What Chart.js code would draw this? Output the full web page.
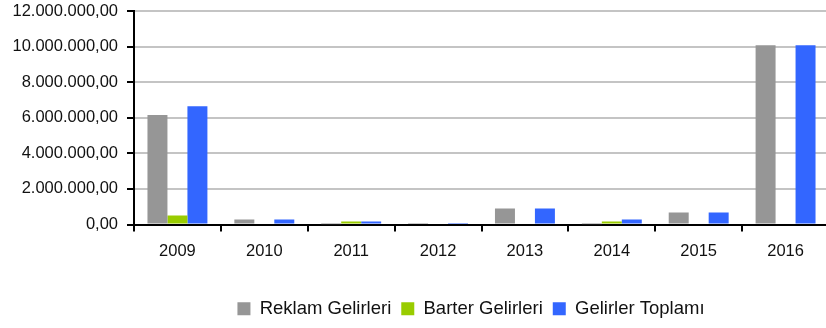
<!DOCTYPE html>
<html>
<head>
<meta charset="utf-8">
<script src="https://cdn.jsdelivr.net/npm/chart.js@4"></script>
<style>
    html, body { margin: 0; padding: 0; background: #fff; overflow: hidden; }
    #wrap { width: 829px; height: 328px; }
</style>
</head>
<body>
<div id="wrap"><canvas id="gelirChart" width="829" height="328"></canvas></div>
<script>
// Yıllar ve gelir serileri (TL)
const yillar = ['2009', '2010', '2011', '2012', '2013', '2014', '2015', '2016'];
const reklamGelirleri = [6150000, 280000, 10000, 30000, 900000, 20000, 680000, 10080000];
const barterGelirleri = [500000, 0, 170000, 0, 0, 170000, 0, 0];
const gelirlerToplami = [6650000, 280000, 170000, 30000, 900000, 280000, 680000, 10080000];
const yTikler = [0, 2000000, 4000000, 6000000, 8000000, 10000000, 12000000];

// Sayıyı 12.000.000,00 biçiminde yaz
function formatTL(value) {
    const parts = Number(value).toFixed(2).split('.');
    const tam = parts[0].replace(/\B(?=(\d{3})+(?!\d))/g, '.');
    return tam + ',' + parts[1];
}

// Lejantı grafik alanının ortasına yakın kaydır
const lejantKaydir = {
    id: 'lejantKaydir',
    beforeDraw(chart) {
        const lg = chart.legend;
        if (!lg) return;
        const hedefMerkez = 471;
        const fark = hedefMerkez - (lg.left + lg.right) / 2;
        lg.left += fark;
        lg.right += fark;
    }
};

Chart.defaults.font.family = '"Liberation Sans", Arial, sans-serif';
Chart.defaults.color = '#111';

const ctx = document.getElementById('gelirChart');
new Chart(ctx, {
    type: 'bar',
    data: {
        labels: yillar,
        datasets: [
            { label: 'Reklam Gelirleri', data: reklamGelirleri, backgroundColor: '#969696' },
            { label: 'Barter Gelirleri', data: barterGelirleri, backgroundColor: '#99cc00' },
            { label: 'Gelirler Toplamı', data: gelirlerToplami, backgroundColor: '#3366ff' }
        ]
    },
    options: {
        responsive: false,
        animation: false,
        layout: { padding: { left: 0, top: 0, right: 0, bottom: 0 } },
        datasets: {
            bar: { categoryPercentage: 0.69, barPercentage: 1.0 }
        },
        plugins: {
            tooltip: { enabled: false },
            legend: {
                position: 'bottom',
                labels: {
                    boxWidth: 13,
                    boxHeight: 13,
                    padding: 10,
                    font: { size: 18.5 },
                    color: '#111'
                }
            }
        },
        scales: {
            x: {
                grid: {
                    drawOnChartArea: false,
                    drawTicks: true,
                    tickLength: 7,
                    tickColor: '#000',
                    lineWidth: 2,
                    offset: true
                },
                border: { color: '#000', width: 2 },
                ticks: { font: { size: 16.5 }, padding: 10, color: '#111' },
                afterFit: function(scale) { scale.height = 65; }
            },
            y: {
                min: 0,
                max: 12000000,
                afterBuildTicks: function(scale) {
                    scale.ticks = yTikler.map(v => ({ value: v }));
                },
                afterFit: function(scale) {
                    scale.paddingTop = 11;
                    scale.width = 134;
                },
                grid: {
                    color: '#c4c4c4',
                    lineWidth: 2,
                    tickLength: 7,
                    tickColor: '#000'
                },
                border: { color: '#000', width: 2 },
                ticks: {
                    font: { size: 16.5 },
                    padding: 9,
                    color: '#111',
                    callback: function(value) { return formatTL(value); }
                }
            }
        }
    },
    plugins: [lejantKaydir]
});
</script>
</body>
</html>
